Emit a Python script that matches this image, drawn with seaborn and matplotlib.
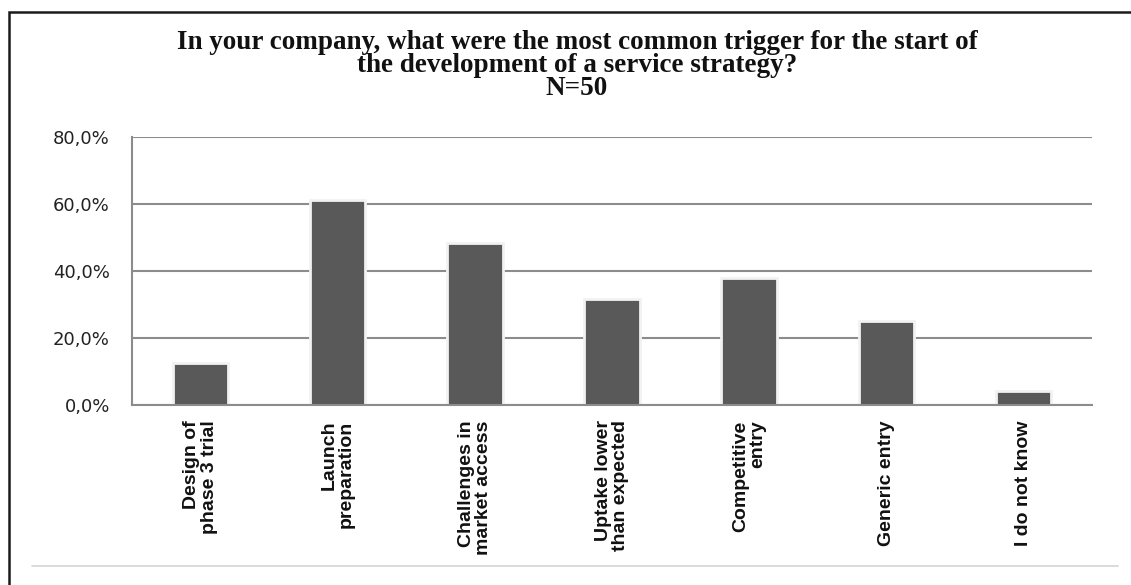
import matplotlib
matplotlib.use("Agg")
import matplotlib.pyplot as plt
import seaborn as sns
import pandas as pd
from matplotlib.ticker import FuncFormatter
from matplotlib.patches import Rectangle
from matplotlib.lines import Line2D

categories = ["Design of\nphase 3 trial", "Launch\npreparation", "Challenges in\nmarket access",
              "Uptake lower\nthan expected", "Competitive\nentry", "Generic entry", "I do not know"]
values = [12.6, 61.2, 48.4, 31.6, 38.0, 25.0, 4.3]
y_ticks = [0, 20, 40, 60, 80]
title_lines = ["In your company, what were the most common trigger for the start of",
               "the development of a service strategy?",
               "N=50"]

sns.set_style("white")
W, H = 1131, 585
fig = plt.figure(figsize=(W / 100, H / 100), dpi=100)
ax = fig.add_axes([132 / W, 1 - 405 / H, 960 / W, 268 / H])

df = pd.DataFrame({"category": categories, "value": values})
sns.barplot(data=df, x="category", y="value", color="#595959", saturation=1,
            width=0.405, edgecolor="#f2f2f2", linewidth=2, ax=ax, zorder=3)

ax.set_xlim(-0.5, len(categories) - 0.5)
ax.set_ylim(0, 80)
ax.set_xlabel("")
ax.set_ylabel("")

ax.set_axisbelow(True)
ax.yaxis.grid(True, color="#8c8c8c", linewidth=1.5)
ax.xaxis.grid(False)
for s in ["top", "right"]:
    ax.spines[s].set_visible(False)
for s in ["left", "bottom"]:
    ax.spines[s].set_color("#8c8c8c")
    ax.spines[s].set_linewidth(1.5)
    ax.spines[s].set_zorder(5)

ax.set_xticks(range(len(categories)))
ax.set_xticklabels(categories, rotation=90, ha="center", va="top", multialignment="right",
                   fontsize=14, fontweight="bold", family="Liberation Sans", color="#111111",
                   linespacing=1.05)
ax.tick_params(axis="x", which="major", length=0, pad=11)
ax.set_xticks([i - 0.5 for i in range(len(categories) + 1)], minor=True)
ax.tick_params(axis="x", which="minor", length=6, width=1.5, color="#8c8c8c", direction="out")

ax.set_yticks(y_ticks)
ax.yaxis.set_major_formatter(FuncFormatter(lambda v, p: f"{v:.1f}%".replace(".", ",")))
ax.tick_params(axis="y", length=5, width=1.5, color="#8c8c8c", direction="out",
               labelsize=13, pad=11, labelcolor="#222222")
for lab in ax.get_yticklabels():
    lab.set_family("DejaVu Sans")

baselines = [49, 72, 95]
for line, b in zip(title_lines, baselines):
    fig.text(577 / W, 1 - b / H, line, ha="center", va="baseline", fontsize=19.5,
             fontweight="bold", family="Liberation Serif", color="#111111")

fig.patches.append(Rectangle((9 / W, -0.5), 2.0, 1.5 - 12 / H, transform=fig.transFigure,
                             fill=False, edgecolor="#1a1a1a", linewidth=1.8))
fig.lines.append(Line2D([32 / W, 1118 / W], [1 - 566 / H] * 2, transform=fig.transFigure,
                        color="#d4d4d4", linewidth=1.2))

fig.savefig("out.png", dpi=100)
